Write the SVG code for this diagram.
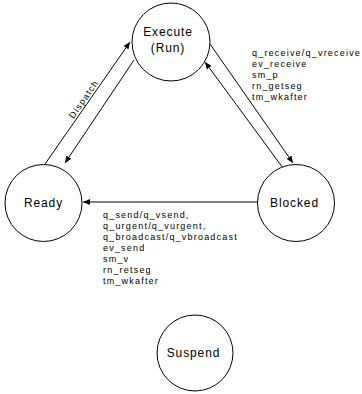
<svg xmlns="http://www.w3.org/2000/svg" width="362" height="394" viewBox="0 0 362 394">
  <style>
    .state { fill: #ffffff; stroke: #000000; stroke-width: 1; }
    .name { font-family: "Liberation Sans", Arial, sans-serif; font-size: 12px; letter-spacing: 0.9px; fill: #000000; text-anchor: middle; }
    .edge { fill: none; stroke: #000000; stroke-width: 1; marker-end: url(#arrow); }
    .call { font-family: "Liberation Sans", Arial, sans-serif; font-size: 9px; letter-spacing: 1.2px; fill: #000000; }
  </style>
  <defs>
    <marker id="arrow" markerUnits="userSpaceOnUse" markerWidth="8" markerHeight="6" refX="7" refY="3" orient="auto">
      <path d="M0,0 L7,3 L0,6 z" fill="#000000"/>
    </marker>
  </defs>

  <rect width="362" height="394" fill="#ffffff"/>

  <!-- transitions -->
  <g id="connectors">
    <line class="edge" x1="45" y1="164" x2="130" y2="42"/>
    <line class="edge" x1="134" y1="60" x2="65" y2="163"/>
    <line class="edge" x1="210" y1="44" x2="293" y2="163"/>
    <line class="edge" x1="283" y1="168" x2="205" y2="62"/>
    <line class="edge" x1="258" y1="202" x2="83" y2="202"/>
    <text class="call" transform="translate(88,102) rotate(-55)" x="0" y="-2" text-anchor="middle">Dispatch</text>
  </g>

  <!-- system calls that block a task -->
  <g id="label-block">
    <text class="call" x="252" y="55.5">q_receive/q_vreceive</text>
    <text class="call" x="252" y="66.5">ev_receive</text>
    <text class="call" x="252" y="77.5">sm_p</text>
    <text class="call" x="252" y="88.5">rn_getseg</text>
    <text class="call" x="252" y="99.5">tm_wkafter</text>
  </g>

  <!-- system calls that make a task ready again -->
  <g id="label-wake">
    <text class="call" x="103" y="217.5">q_send/q_vsend,</text>
    <text class="call" x="103" y="228.5">q_urgent/q_vurgent,</text>
    <text class="call" x="103" y="239.5">q_broadcast/q_vbroadcast</text>
    <text class="call" x="103" y="250.5">ev_send</text>
    <text class="call" x="103" y="261.5">sm_v</text>
    <text class="call" x="103" y="272.5">rn_retseg</text>
    <text class="call" x="103" y="283.5">tm_wkafter</text>
  </g>

  <g id="execute">
    <circle class="state" cx="171" cy="42" r="39"/>
    <text class="name" x="168" y="36">Execute</text>
    <text class="name" x="168" y="52">(Run)</text>
  </g>

  <g id="ready">
    <circle class="state" cx="43.5" cy="203" r="38.5"/>
    <text class="name" x="43.5" y="207">Ready</text>
  </g>

  <g id="blocked">
    <circle class="state" cx="296" cy="203" r="38.5"/>
    <text class="name" x="294.5" y="207">Blocked</text>
  </g>

  <g id="suspend">
    <circle class="state" cx="195" cy="353" r="38"/>
    <text class="name" x="193.5" y="357">Suspend</text>
  </g>
</svg>
